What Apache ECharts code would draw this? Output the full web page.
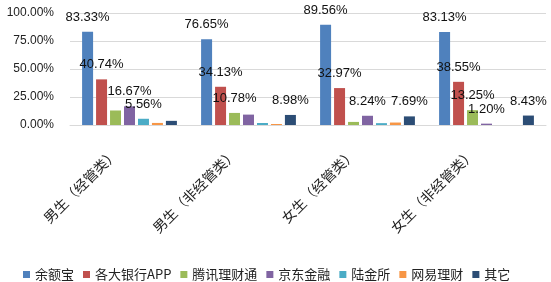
<!DOCTYPE html>
<html>
<head>
<meta charset="utf-8">
<script src="https://cdn.jsdelivr.net/npm/echarts@6/dist/echarts.min.js"></script>
<style>
  html, body { margin: 0; padding: 0; background: #fff; }
  #chart { width: 551px; height: 282px; }
</style>
</head>
<body>
<div id="chart"></div>
<script>
const categories = ['男生（经管类）', '男生（非经管类）', '女生（经管类）', '女生（非经管类）']
const seriesNames = ['余额宝', '各大银行APP', '腾讯理财通', '京东金融', '陆金所', '网易理财', '其它']

const yuebao = [83.33, 76.65, 89.56, 83.13]
const banks = [40.74, 34.13, 32.97, 38.55]
const tencent = [12.96, 10.78, 2.75, 13.25]
const jd = [16.67, 9.28, 8.24, 1.2]
const lufax = [5.56, 1.8, 1.65, 0]
const netease = [1.85, 0.9, 2.2, 0]
const others = [3.7, 8.98, 7.69, 8.43]

// category indices whose value label is visible, per series
const labelled = [
  [0, 1, 2, 3],
  [0, 1, 2, 3],
  [1, 3],
  [0, 2, 3],
  [0],
  [],
  [1, 2, 3],
]

const yTicks = [0, 25, 50, 75, 100]
const colors = ['#4F81BD', '#C0504D', '#9BBB59', '#8064A2', '#4BACC6', '#F79646', '#2C4D75']
const values = [yuebao, banks, tencent, jd, lufax, netease, others]

const cjk = '"Noto Sans CJK SC", sans-serif'
const num = '"Liberation Sans", Arial, sans-serif'

const chart = echarts.init(document.getElementById('chart'))

chart.setOption({
  animation: false,
  color: colors,
  grid: { left: 70, right: 5, top: 13, bottom: 157 },
  legend: {
    data: seriesNames,
    left: 18,
    top: 263,
    icon: 'rect',
    itemWidth: 7,
    itemHeight: 7,
    itemGap: 9,
    textStyle: { fontFamily: cjk, fontSize: 13, color: '#222' },
  },
  xAxis: {
    type: 'category',
    data: categories,
    axisTick: { show: false },
    axisLine: { lineStyle: { color: '#D9D9D9' } },
    axisLabel: {
      rotate: 45,
      interval: 0,
      margin: 12,
      padding: [0, 20, 0, 0],
      fontFamily: cjk,
      fontSize: 14,
      color: '#222',
    },
  },
  yAxis: {
    type: 'value',
    min: yTicks[0],
    max: yTicks[yTicks.length - 1],
    interval: 25,
    axisLine: { show: false },
    axisTick: { show: false },
    splitLine: { lineStyle: { color: '#D9D9D9' } },
    axisLabel: {
      margin: 16,
      fontFamily: num,
      fontSize: 12,
      color: '#222',
      formatter: (v) => v.toFixed(2) + '%',
    },
  },
  series: seriesNames.map((name, s) => ({
    name,
    type: 'bar',
    barWidth: 11,
    barGap: '27%',
    data: values[s].map((v, c) => ({
      value: v,
      label: { show: labelled[s].includes(c) },
    })),
    label: {
      position: 'top',
      distance: 8,
      fontFamily: num,
      fontSize: 13,
      color: '#111',
      formatter: (p) => p.value.toFixed(2) + '%',
    },
  })),
})
</script>
</body>
</html>
